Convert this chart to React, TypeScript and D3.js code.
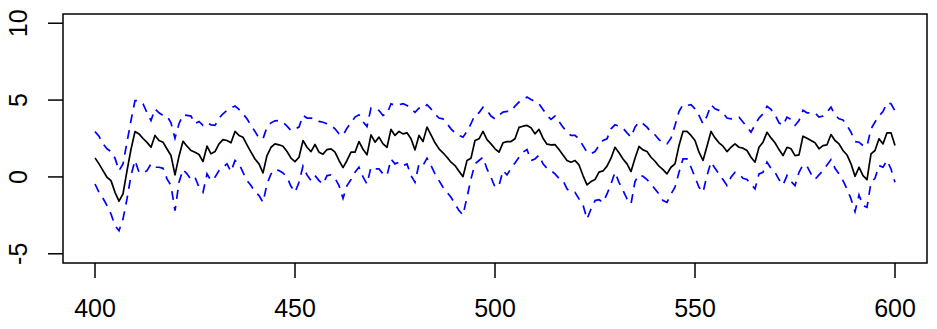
import React from 'react';
import * as d3 from 'd3';

// time index 400..600
const startIdx = 400;

// central series (solid black)
const mean = [
  1.24, 0.85, 0.41, -0.02, -0.24, -1.0, -1.58, -1.1, 0.4, 1.8,
  2.95, 2.8, 2.5, 2.25, 1.93, 2.7, 2.37, 2.26, 1.82, 1.39,
  0.13, 1.35, 2.32, 2.0, 1.72, 1.61, 1.46, 1.0, 2.0, 1.5,
  1.65, 2.15, 2.43, 2.37, 2.22, 2.96, 2.7, 2.58, 2.09, 1.61,
  1.17, 0.85, 0.26, 1.39, 1.93, 2.15, 2.09, 2.0, 1.65, 1.22,
  1.0, 1.28, 2.37, 1.93, 1.65, 2.11, 1.61, 1.48, 1.78, 1.83,
  1.61, 1.07, 0.61, 1.07, 1.61, 1.61, 2.3, 1.8, 1.44, 2.74,
  2.26, 2.59, 2.15, 1.93, 3.09, 2.7, 2.96, 2.8, 2.87, 2.48,
  1.76, 2.7, 2.3, 3.24, 2.74, 2.22, 1.83, 1.57, 1.28, 0.96,
  0.74, 0.37, 0.02, 1.07, 1.22, 2.37, 2.48, 2.96, 2.43, 2.15,
  1.83, 1.61, 2.22, 2.3, 2.3, 2.48, 3.22, 3.3, 3.35, 3.2,
  2.8, 3.09, 2.52, 2.13, 2.09, 2.1, 1.78, 1.43, 1.07, 0.96,
  1.07, 0.78, 0.09, -0.52, -0.3, -0.17, 0.31, 0.39, 0.7, 1.22,
  1.93, 1.57, 1.17, 0.85, 0.35, 1.22, 1.98, 1.76, 1.65, 1.28,
  1.02, 0.7, 0.48, 0.2, 0.63, 0.85, 2.04, 2.96, 2.96, 2.7,
  2.37, 1.61, 1.07, 2.0, 2.96, 2.54, 2.22, 2.0, 1.65, 1.93,
  2.15, 1.93, 1.87, 1.72, 1.28, 0.96, 1.93, 2.26, 2.9, 2.54,
  2.22, 1.78, 1.39, 1.93, 1.83, 1.39, 1.43, 2.65, 2.52, 2.37,
  2.22, 1.83, 2.04, 2.09, 2.76, 2.37, 2.15, 1.72, 1.43, 0.85,
  0.04, 0.63, 0.09, -0.17, 1.5, 1.72, 2.48, 2.15, 2.87, 2.87,
  2.04,
];

// upper band (dashed blue)
const upper = [
  2.95, 2.65, 2.15, 1.83, 1.65, 1.22, 0.41, 0.85, 2.26, 3.67,
  4.97, 4.95, 4.76, 4.17, 3.67, 4.43, 4.17, 4.0, 3.96, 3.52,
  2.52, 3.46, 4.04, 4.0, 3.96, 3.46, 3.61, 3.35, 3.52, 3.39,
  3.35, 3.83, 4.11, 4.33, 4.48, 4.61, 4.39, 4.1, 3.78, 3.35,
  2.96, 2.52, 2.48, 3.24, 3.52, 3.65, 3.67, 3.56, 3.3, 3.02,
  3.13, 3.24, 4.0, 3.83, 3.83, 3.78, 3.61, 3.56, 3.46, 3.35,
  3.13, 2.8, 2.7, 3.17, 3.52, 3.89, 4.04, 3.6, 3.28, 4.48,
  4.39, 4.32, 4.0, 4.1, 4.76, 4.65, 4.7, 4.76, 4.65, 4.43,
  4.2, 4.48, 4.43, 4.7, 4.43, 4.1, 3.83, 3.78, 3.46, 3.13,
  2.87, 2.7, 2.59, 2.96, 3.46, 4.04, 4.17, 4.54, 4.33, 3.96,
  3.78, 4.0, 4.22, 4.26, 4.26, 4.61, 4.87, 4.98, 5.2, 5.04,
  4.91, 4.76, 4.39, 4.0, 3.74, 3.96, 3.6, 3.24, 2.91, 2.7,
  2.7, 2.48, 2.04, 1.61, 1.5, 1.65, 2.04, 2.37, 2.48, 3.13,
  3.39, 3.3, 3.17, 2.87, 2.59, 3.24, 3.57, 3.46, 3.24, 2.91,
  2.74, 2.43, 2.22, 2.15, 2.52, 3.35, 4.26, 4.7, 4.65, 4.7,
  4.43, 4.0, 3.46, 3.96, 4.7, 4.43, 4.33, 4.17, 3.83, 3.78,
  3.83, 3.89, 3.57, 3.24, 2.91, 3.39, 3.83, 4.1, 4.6, 4.39,
  4.04, 3.52, 3.35, 3.89, 3.74, 3.35, 3.67, 4.33, 4.17, 4.17,
  4.17, 3.89, 3.96, 4.22, 4.54, 4.04, 3.78, 3.7, 3.35, 2.91,
  2.3, 2.26, 2.04, 2.0, 3.13, 3.57, 3.96, 4.26, 4.82, 4.76,
  4.3,
];

// lower band (dashed blue)
const lower = [
  -0.46, -1.0, -1.39, -1.87, -2.41, -3.17, -3.5, -2.74, -1.43, 0.09,
  1.07, 0.3, 0.26, 0.41, 0.85, 0.63, 0.63, 0.56, -0.13, -0.56,
  -2.2, -0.35, 0.48, 0.2, -0.17, -0.02, -0.67, -1.0, 0.2, -0.24,
  -0.02, 0.41, 0.63, 0.85, 0.35, 1.07, 0.85, 0.3, -0.24, -0.56,
  -0.96, -1.21, -1.65, -0.46, 0.2, 0.48, 0.41, 0.26, -0.02, -0.61,
  -1.0, -0.35, 0.7, 0.13, -0.24, 0.09, -0.24, -0.46, 0.09, 0.13,
  -0.09, -0.56, -1.39, -0.56, -0.17, 0.3, 0.63, 0.0, -0.46, 0.63,
  0.52, 0.52, 0.2, 0.09, 1.17, 0.85, 0.96, 0.74, 0.85, 0.09,
  -0.35, 0.85, 0.74, 1.22, 0.74, 0.2, -0.24, -0.67, -1.0, -1.32,
  -1.76, -2.19, -2.48, -1.32, -0.13, 0.85, 1.07, 1.28, 0.52, -0.02,
  -0.67, -0.56, 0.41, 0.13, 0.56, 0.91, 1.28, 1.61, 1.78, 1.07,
  1.17, 1.43, 0.85, 0.56, 0.41, 0.2, -0.09, -0.24, -0.78, -1.0,
  -1.0, -1.43, -1.82, -2.74, -2.09, -1.54, -1.48, -1.65, -1.11, -0.46,
  0.3, -0.35, -0.89, -1.43, -1.76, -0.3, 0.13, 0.04, -0.17, -0.46,
  -0.78, -1.11, -1.54, -1.65, -1.11, -0.67, 0.3, 1.17, 1.17, 0.63,
  -0.02, -0.67, -1.0, 0.09, 0.96, 0.56, 0.2, -0.17, -0.56, -0.02,
  0.3, 0.2, -0.09, -0.17, -0.46, -0.78, 0.2, 0.3, 0.96, 0.56,
  0.3, -0.17, -0.52, 0.09, -0.3, -0.56, 0.3, 0.78, 0.7, 0.2,
  -0.17, 0.13, 0.41, 0.78, 1.13, 0.56, 0.2, -0.24, -0.78, -1.43,
  -2.26, -1.17, -1.87, -1.98, -0.35, -0.09, 0.74, 0.63, 1.07, 0.52,
  -0.35,
];

const xTicks = [400, 450, 500, 550, 600];
const yTicks = [-5, 0, 5, 10];

const width = 937;
const height = 329;
const margin = { top: 14, right: 10, bottom: 66, left: 63 };
const font = '"Liberation Sans", Arial, Helvetica, sans-serif';

export default function App() {
  const plotW = width - margin.left - margin.right;
  const plotH = height - margin.top - margin.bottom;

  // R-style 4% axis extension
  const x = d3.scaleLinear().domain([400 - 8, 600 + 8]).range([margin.left, margin.left + plotW]);
  const y = d3.scaleLinear().domain([-5 - 0.6, 10 + 0.6]).range([margin.top + plotH, margin.top]);

  const line = d3.line<number>()
    .x((_, i) => x(startIdx + i))
    .y((d) => y(d));

  const bottom = margin.top + plotH;

  return (
    <svg width={width} height={height} style={{ position: 'absolute', left: 0, top: 0, background: '#fff' }}
      fontFamily={font}>
      <path d={line(upper) ?? ''} fill="none" stroke="#0000ff" strokeWidth={1.7} strokeDasharray="9,7" />
      <path d={line(lower) ?? ''} fill="none" stroke="#0000ff" strokeWidth={1.7} strokeDasharray="9,7" />
      <path d={line(mean) ?? ''} fill="none" stroke="#000" strokeWidth={1.7} strokeLinejoin="round" />

      <rect x={margin.left} y={margin.top} width={plotW} height={plotH} fill="none" stroke="#000" strokeWidth={1.5} />

      {xTicks.map((t) => (
        <g key={t}>
          <line x1={x(t)} x2={x(t)} y1={bottom} y2={bottom + 15} stroke="#000" strokeWidth={1.5} />
          <text x={x(t)} y={bottom + 54} textAnchor="middle" fontSize={25}>{t}</text>
        </g>
      ))}
      {yTicks.map((t) => (
        <g key={t}>
          <line x1={margin.left - 15} x2={margin.left} y1={y(t)} y2={y(t)} stroke="#000" strokeWidth={1.5} />
          <text transform={`translate(26.5,${y(t)}) rotate(-90)`} textAnchor="middle" fontSize={25}>{t}</text>
        </g>
      ))}
    </svg>
  );
}
